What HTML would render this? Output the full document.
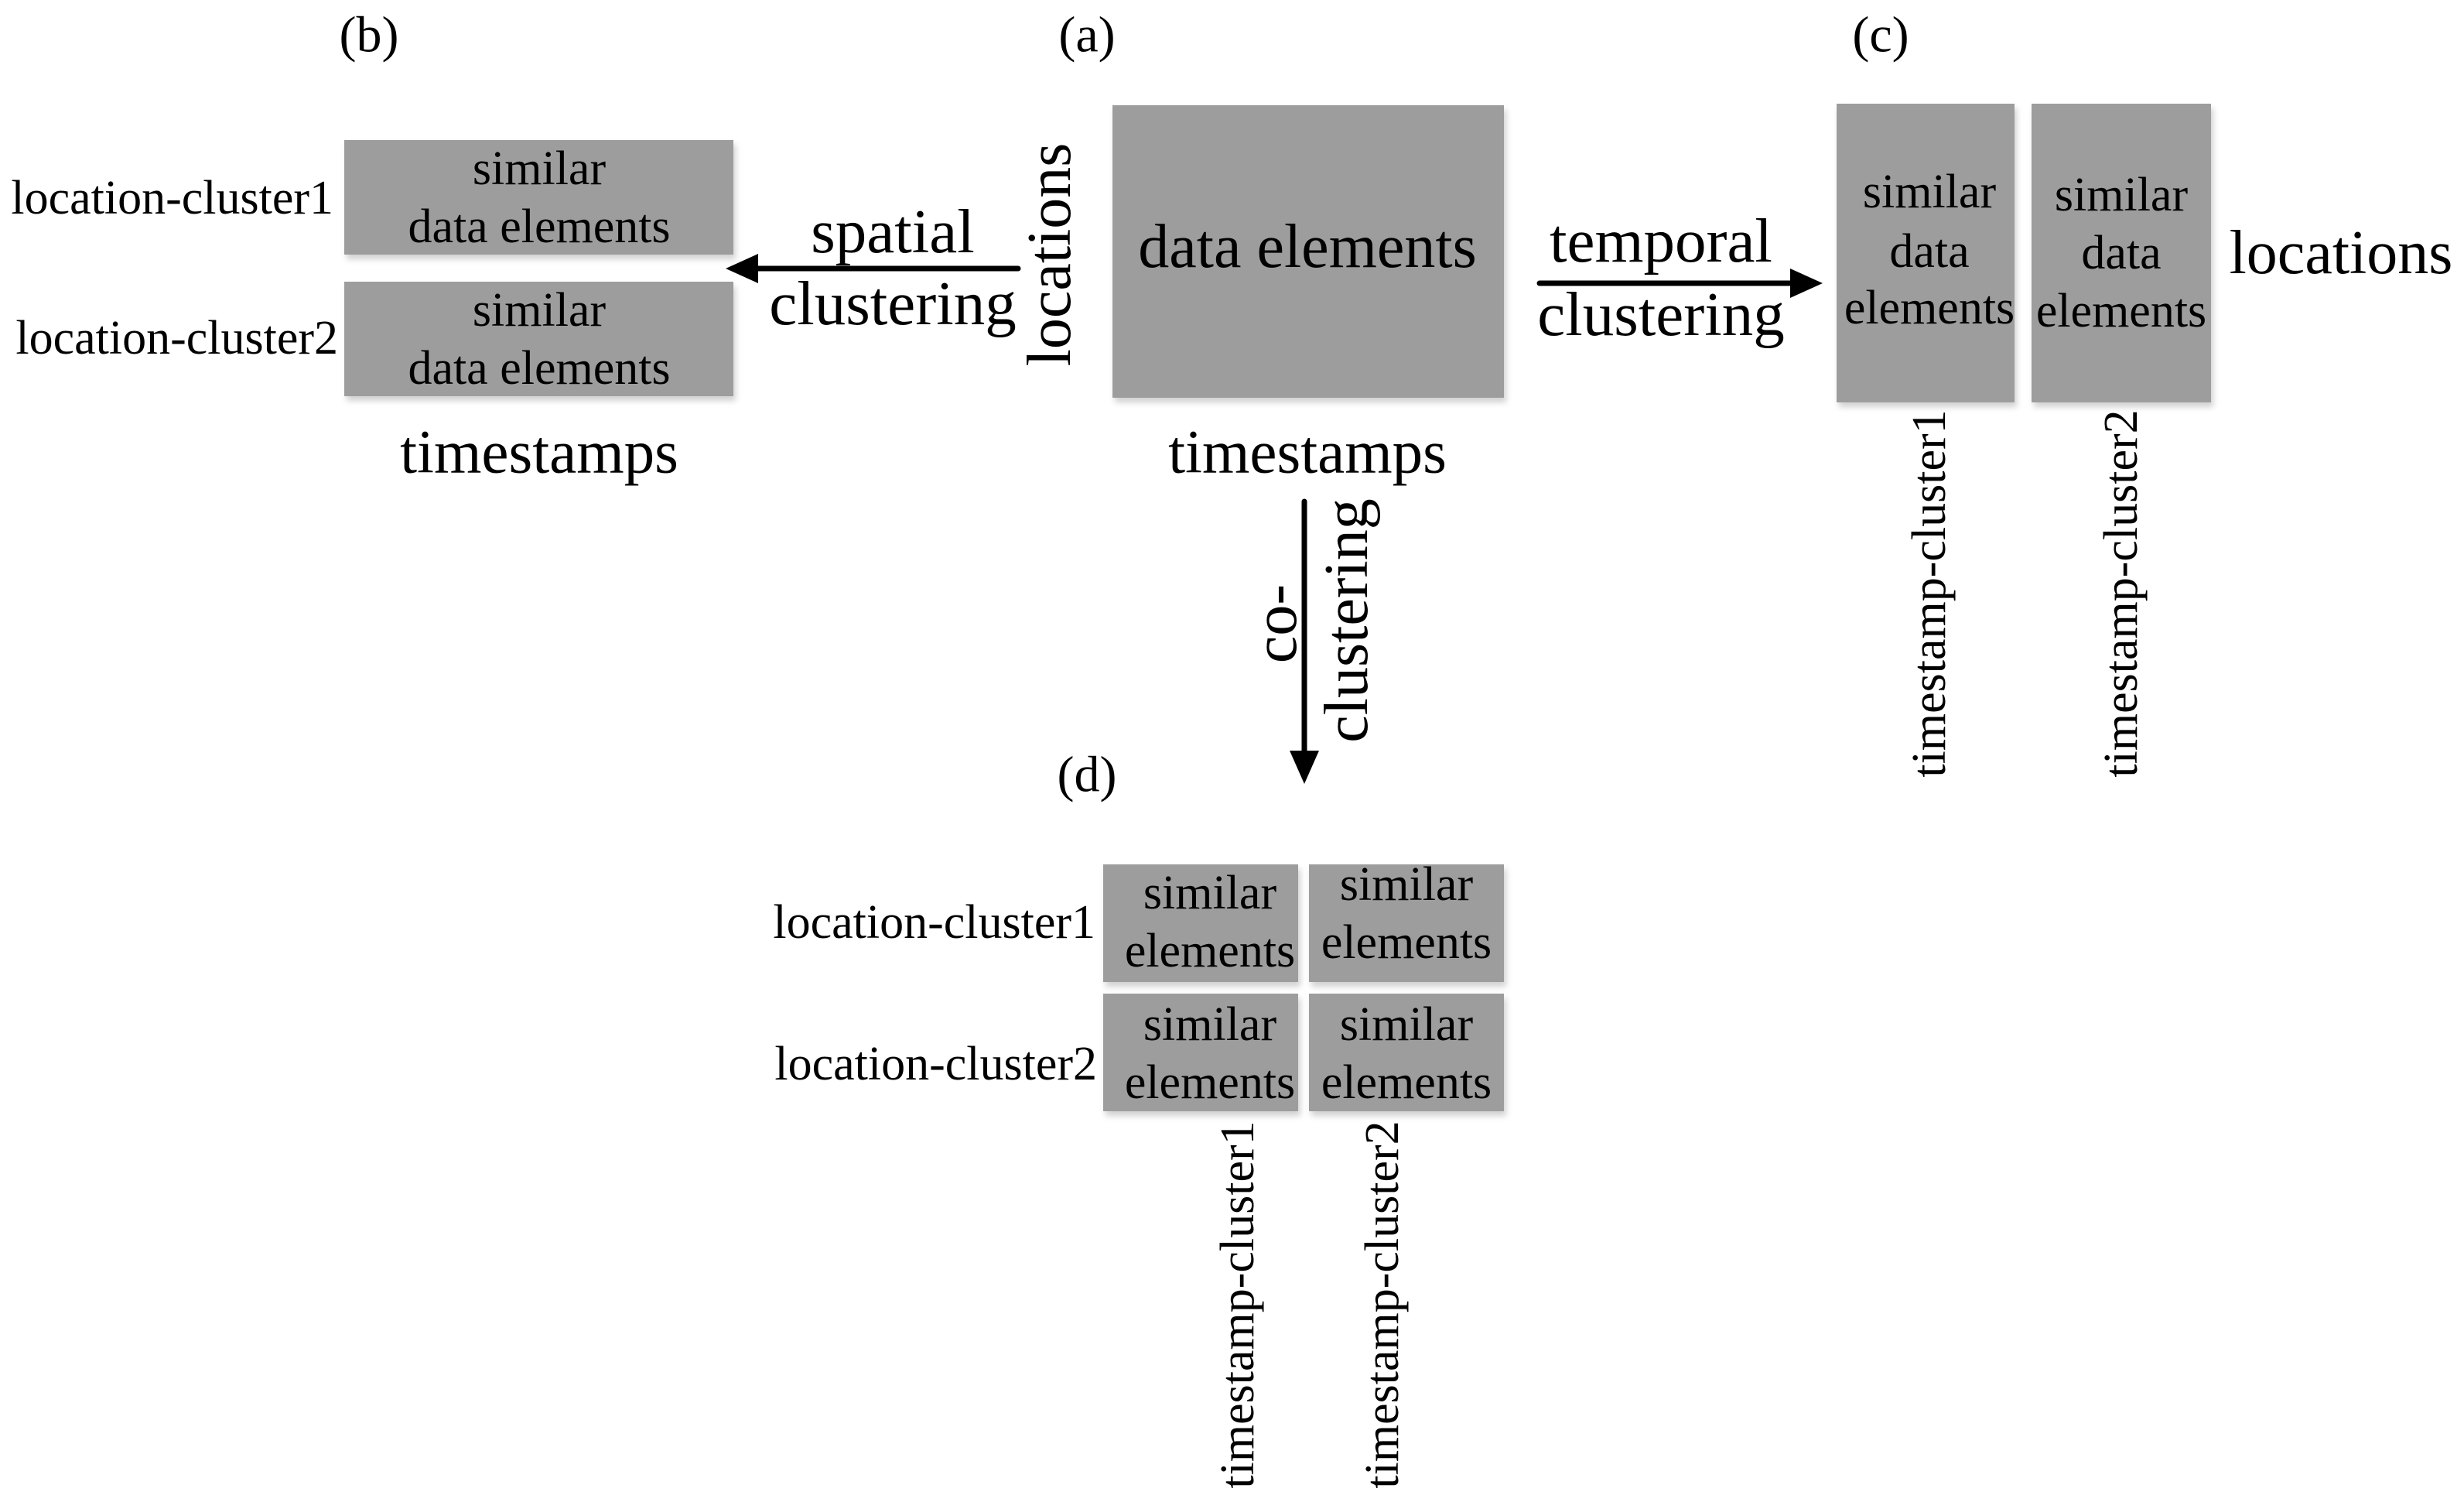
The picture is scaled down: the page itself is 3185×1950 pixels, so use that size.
<!DOCTYPE html>
<html><head><style>html,body{margin:0;padding:0;background:#fff}</style></head>
<body>
<svg width="3185" height="1945" viewBox="0 0 3185 1945" xmlns="http://www.w3.org/2000/svg" font-family="Liberation Serif, serif" fill="#000">
<defs><filter id="s" x="-5%" y="-5%" width="115%" height="115%"><feDropShadow dx="3" dy="6" stdDeviation="4" flood-color="#000" flood-opacity="0.18"/></filter></defs>
<g text-anchor="middle" dominant-baseline="central">
<text x="477" y="45" font-size="66">(b)</text>
<text x="1405" y="45" font-size="66">(a)</text>
<text x="2431" y="45" font-size="66">(c)</text>
<text x="1405" y="1001" font-size="66">(d)</text>

<g fill="#9d9d9d" filter="url(#s)">
<rect x="445" y="181" width="503" height="148"/>
<rect x="445" y="364" width="503" height="148"/>
<rect x="1438" y="136" width="506" height="378"/>
<rect x="2374" y="134" width="230" height="386"/>
<rect x="2626" y="134" width="232" height="386"/>
<rect x="1426" y="1117" width="252" height="152"/>
<rect x="1692" y="1117" width="252" height="152"/>
<rect x="1426" y="1284" width="252" height="152"/>
<rect x="1692" y="1284" width="252" height="152"/>
</g>

<g font-size="62">
<text x="697" y="218">similar</text><text x="697" y="293">data elements</text>
<text x="697" y="401">similar</text><text x="697" y="476">data elements</text>
<text x="2494" y="248">similar</text><text x="2494" y="325">data</text><text x="2494" y="398">elements</text>
<text x="2742" y="252">similar</text><text x="2742" y="327">data</text><text x="2742" y="402">elements</text>
<text x="1564" y="1154">similar</text><text x="1564" y="1229">elements</text>
<text x="1818" y="1143">similar</text><text x="1818" y="1218">elements</text>
<text x="1564" y="1324">similar</text><text x="1564" y="1399">elements</text>
<text x="1818" y="1324">similar</text><text x="1818" y="1399">elements</text>
</g>
<text x="1690" y="319" font-size="80">data elements</text>
<text x="697" y="585" font-size="79">timestamps</text>
<text x="1690" y="585" font-size="79">timestamps</text>
<text x="1154" y="299" font-size="81">spatial</text>
<text x="1154" y="392" font-size="81">clustering</text>
<text x="2147" y="311" font-size="81">temporal</text>
<text x="2147" y="406" font-size="81">clustering</text>
<text x="3026" y="327" font-size="80">locations</text>
<text transform="translate(1357,329) rotate(-90)" font-size="80">locations</text>
<text transform="translate(1649,806) rotate(-90)" font-size="80">co-</text>
<text transform="translate(1741,802) rotate(-90)" font-size="80">clustering</text>
<g font-size="62">
<text transform="translate(2494,767) rotate(-90)">timestamp-cluster1</text>
<text transform="translate(2742,767) rotate(-90)">timestamp-cluster2</text>
<text transform="translate(1600,1686) rotate(-90)">timestamp-cluster1</text>
<text transform="translate(1787,1686) rotate(-90)">timestamp-cluster2</text>
</g>
</g>
<g font-size="62" text-anchor="end" dominant-baseline="central">
<text x="431" y="256">location-cluster1</text>
<text x="437" y="437">location-cluster2</text>
<text x="1416" y="1192">location-cluster1</text>
<text x="1418" y="1375">location-cluster2</text>
</g>

<g stroke="#000" stroke-width="7" stroke-linecap="round">
<line x1="1316" y1="347" x2="975" y2="347"/>
<line x1="1990" y1="366" x2="2320" y2="366"/>
<line x1="1686" y1="648" x2="1686" y2="975"/>
</g>
<polygon points="938,347 980,328 980,366"/>
<polygon points="2356,366 2314,347 2314,385"/>
<polygon points="1686,1013 1667,970 1705,970"/>
</svg>
</body></html>
